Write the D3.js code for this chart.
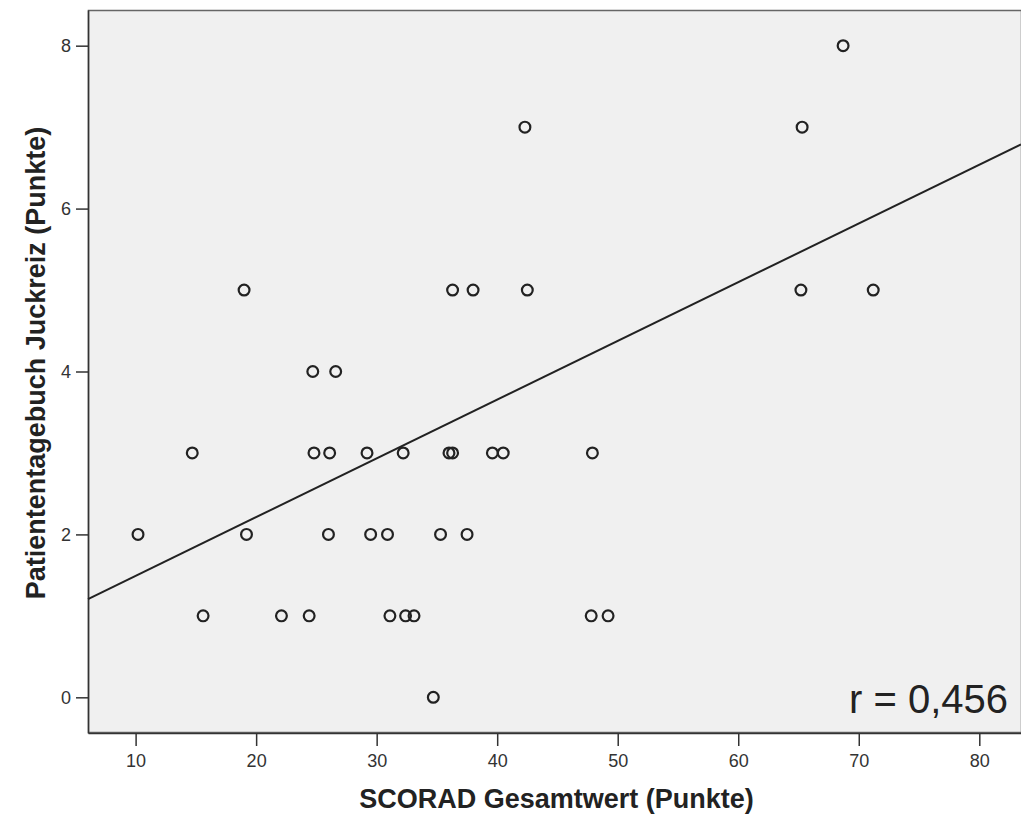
<!DOCTYPE html>
<html>
<head>
<meta charset="utf-8">
<script src="https://cdn.jsdelivr.net/npm/d3@7"></script>
<style>
  body { margin: 0; background: #fff; }
  svg { display: block; font-family: Arial, 'Liberation Sans', sans-serif; }
</style>
</head>
<body>
<div id="vis"></div>
<script>
// data
const scorad = [
  68.7,
  42.3, 65.3,
  19.0, 36.3, 38.0, 42.5, 65.2, 71.2,
  24.7, 26.6,
  14.7, 24.8, 26.1, 29.2, 32.2, 36.0, 36.3, 39.6, 40.5, 47.9,
  10.2, 19.2, 26.0, 29.5, 30.9, 35.3, 37.5,
  15.6, 22.1, 24.4, 31.1, 32.4, 33.1, 47.8, 49.2,
  34.7
];
const juckreiz = [
  8,
  7, 7,
  5, 5, 5, 5, 5, 5,
  4, 4,
  3, 3, 3, 3, 3, 3, 3, 3, 3, 3,
  2, 2, 2, 2, 2, 2, 2,
  1, 1, 1, 1, 1, 1, 1, 1,
  0
];
const xTicks = [10, 20, 30, 40, 50, 60, 70, 80];
const yTicks = [0, 2, 4, 6, 8];
const fitIntercept = 0.77;
const fitSlope = 0.0721;
const rLabel = 'r = 0,456';

let margin = { top: 10, left: 88, right: 0, bottom: 83 },
  W = 1021, H = 816,
  width = W - margin.left - margin.right,
  height = H - margin.top - margin.bottom;

let svg = d3.select('#vis')
  .append('svg')
  .attr('width', W)
  .attr('height', H);

let xScale = d3.scaleLinear().domain([6.05, 83.46]).range([0, width]);
let yScale = d3.scaleLinear().domain([-0.438, 8.438]).range([height, 0]);

let g = svg.append('g')
  .attr('transform', 'translate(' + margin.left + ',' + margin.top + ')');

// plot background + frame
g.append('rect')
  .attr('x', 0.5).attr('y', 0.5)
  .attr('width', width).attr('height', height - 1)
  .attr('fill', '#f0f0f0')
  .attr('stroke', '#666')
  .attr('stroke-width', 1.5);

// y axis
let yAxis = g.append('g')
  .call(d3.axisLeft(yScale).tickValues(yTicks).tickSize(12).tickPadding(5).tickSizeOuter(0));
// x axis
let xAxis = g.append('g')
  .attr('transform', 'translate(0,' + height + ')')
  .call(d3.axisBottom(xScale).tickValues(xTicks).tickSize(13).tickPadding(8).tickSizeOuter(0));

[xAxis, yAxis].forEach(function(a) {
  a.select('.domain').attr('stroke', '#333').attr('stroke-width', 1.5);
  a.selectAll('.tick line').attr('stroke', '#333').attr('stroke-width', 1.5);
  a.selectAll('.tick text')
    .attr('fill', '#333')
    .style('font-size', '18px')
    .style('font-family', "Arial, 'Liberation Sans', sans-serif");
});

// regression line
let x0 = xScale.domain()[0], x1 = xScale.domain()[1];
g.append('line')
  .attr('x1', xScale(x0)).attr('y1', yScale(fitIntercept + fitSlope * x0))
  .attr('x2', xScale(x1)).attr('y2', yScale(fitIntercept + fitSlope * x1))
  .attr('stroke', '#222')
  .attr('stroke-width', 2);

// points
g.append('g')
  .selectAll('circle')
  .data(scorad.map(function(d, i) { return { x: d, y: juckreiz[i] }; }))
  .enter()
  .append('circle')
  .attr('cx', function(d) { return xScale(d.x); })
  .attr('cy', function(d) { return yScale(d.y); })
  .attr('r', 5.4)
  .attr('fill', 'none')
  .attr('stroke', '#222')
  .attr('stroke-width', 2.2);

// r label
g.append('text')
  .attr('x', 1008 - margin.left)
  .attr('y', 713 - margin.top)
  .attr('text-anchor', 'end')
  .attr('fill', '#222')
  .style('font-size', '40px')
  .text(rLabel);

// x title
svg.append('text')
  .attr('x', margin.left + width / 2 + 2)
  .attr('y', 808)
  .attr('text-anchor', 'middle')
  .attr('fill', '#222')
  .style('font-size', '27px')
  .style('font-weight', 'bold')
  .text('SCORAD Gesamtwert (Punkte)');

// y title
svg.append('g')
  .attr('transform', 'translate(45,363)')
  .append('text')
  .attr('text-anchor', 'middle')
  .attr('transform', 'rotate(-90)')
  .attr('fill', '#222')
  .style('font-size', '27px')
  .style('font-weight', 'bold')
  .text('Patiententagebuch Juckreiz (Punkte)');
</script>
</body>
</html>
